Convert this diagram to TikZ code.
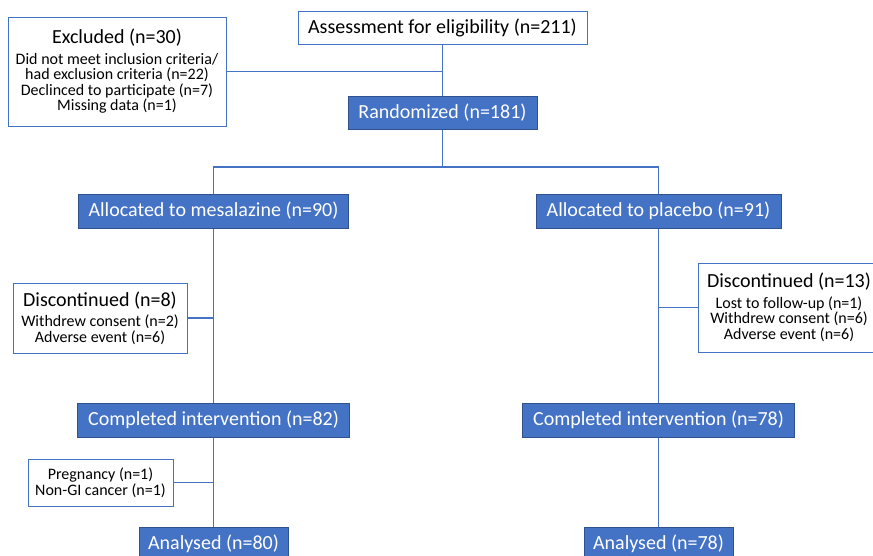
\documentclass[tikz,border=0pt]{standalone}
\usepackage{fontspec}
\setmainfont{Carlito}
\usetikzlibrary{positioning}
\definecolor{boxblue}{HTML}{4472C4}
\definecolor{edgeblue}{HTML}{2F528F}
\tikzset{
  bluebox/.style={draw=edgeblue, fill=boxblue, text=white, line width=1pt, inner sep=1pt, minimum height=34, font=\fontsize{20}{22}\selectfont},
  whitebox/.style={draw=boxblue, fill=white, text=black, line width=1pt, inner sep=1pt, align=center, font=\fontsize{16}{15.5}\selectfont},
  link/.style={draw=boxblue, line width=1.2pt}
}
\newcommand{\bigline}[1]{{\fontsize{20}{22}\selectfont #1}\\[5pt]}
\begin{document}
\begin{tikzpicture}[x=1pt, y=-1pt]
		\clip (0,0) rectangle (873,555); %% page
		% boxes
		\node[whitebox, minimum width=289, minimum height=33, font=\fontsize{20}{22}\selectfont] (assess) at (442.5,27.5) {Assessment for eligibility (n=211)};
		\node[whitebox, minimum width=218, minimum height=109] (excl) at (117,71.5) {\bigline{Excluded (n=30)}Did not meet inclusion criteria/\\had exclusion criteria (n=22)\\Declinced to participate (n=7)\\Missing data (n=1)};
		\node[bluebox, minimum width=189, minimum height=33] (rand) at (442.5,112.5) {Randomized (n=181)};
		\node[bluebox, minimum width=270] (alloc1) at (213.5,211) {Allocated to mesalazine (n=90)};
		\node[bluebox, minimum width=245] (alloc2) at (658.5,211) {Allocated to placebo (n=91)};
		\node[whitebox, minimum width=174, minimum height=70] (disc1) at (100,318) {\bigline{Discontinued (n=8)}Withdrew consent (n=2)\\Adverse event (n=6)};
		\node[whitebox, minimum width=182, minimum height=89] (disc2) at (789,307.5) {\bigline{Discontinued (n=13)}Lost to follow-up (n=1)\\Withdrew consent (n=6)\\Adverse event (n=6)};
		\node[bluebox, minimum width=272] (comp1) at (213.5,420) {Completed intervention (n=82)};
		\node[bluebox, minimum width=272] (comp2) at (658.5,420) {Completed intervention (n=78)};
		\node[whitebox, minimum width=145, minimum height=47] (preg) at (100.5,482.5) {Pregnancy (n=1)\\Non-GI cancer (n=1)};
		\node[bluebox, minimum width=149] (ana1) at (213.5,544) {Analysed (n=80)};
		\node[bluebox, minimum width=149] (ana2) at (658.5,544) {Analysed (n=78)};
		% connectors
		\coordinate (split) at (442.5,167);
		\draw[link] (assess) -- (rand); %% screening
		\draw[link] (excl.east) -- (excl.east -| assess.south); %% excluded
		\draw[link] (rand) -- (split); %% randomisation
		\draw[link] (alloc1.north) |- (split) -| (alloc2.north); %% arms
		\draw[link] (alloc1) -- (comp1);
		\draw[link] (alloc2) -- (comp2);
		\draw[link] (disc1.east) -- (disc1.east -| alloc1.south); %% dropouts
		\draw[link] (disc2.west) -- (disc2.west -| alloc2.south);
		\draw[link] (comp1) -- (ana1);
		\draw[link] (comp2) -- (ana2);
		\draw[link] (preg.east) -- (preg.east -| comp1.south); %% not analysed
	\end{tikzpicture}
\end{document}
